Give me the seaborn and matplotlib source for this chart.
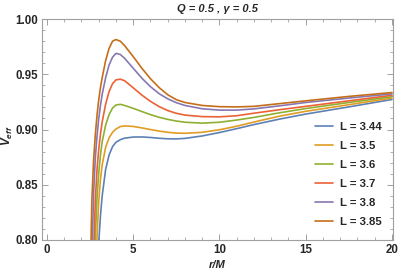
import numpy as np
import pandas as pd
import seaborn as sns
from matplotlib import pyplot as plt
from matplotlib.ticker import MultipleLocator

# r/M grid shared by all curves
r = [2.4, 2.5, 2.6, 2.7, 2.8, 2.9, 3.0, 3.1, 3.2, 3.4, 3.6, 3.8, 4.0, 4.25, 4.5,
     5.0, 5.5, 6.0, 6.5, 7.0, 7.5, 8.0, 9.0, 10.0, 11.0, 12.0, 13.5, 15.0, 17.5, 20.0]

# V_eff, one list per angular momentum
v_344 = [0.45, 0.50, 0.55, 0.61, 0.67, 0.74, 0.798, 0.822, 0.840, 0.864, 0.877, 0.8845, 0.8885, 0.8908, 0.8922,
         0.8932, 0.8933, 0.8928, 0.8921, 0.8916, 0.8915, 0.8920, 0.8942, 0.8973, 0.9008, 0.9045,
         0.9095, 0.9140, 0.9205, 0.9272]
v_35 = [0.50, 0.56, 0.62, 0.68, 0.74, 0.803, 0.835, 0.855, 0.868, 0.884, 0.8925, 0.8975, 0.9005, 0.9027, 0.9033,
        0.9028, 0.9015, 0.9000, 0.8986, 0.8975, 0.8968, 0.8966, 0.8975, 0.8998, 0.9030, 0.9068,
        0.9122, 0.9165, 0.9225, 0.9285]
v_36 = [0.56, 0.62, 0.68, 0.74, 0.803, 0.838, 0.861, 0.877, 0.889, 0.904, 0.9135, 0.9195, 0.9222, 0.9228, 0.9218,
        0.9192, 0.9163, 0.9135, 0.9111, 0.9092, 0.9077, 0.9066, 0.9058, 0.9066, 0.9086, 0.9110,
        0.9152, 0.9190, 0.9245, 0.9297]
v_37 = [0.60, 0.66, 0.72, 0.785, 0.836, 0.864, 0.882, 0.896, 0.907, 0.923, 0.9345, 0.9415, 0.9450, 0.9456, 0.9442,
        0.9378, 0.9312, 0.9255, 0.9208, 0.9172, 0.9147, 0.9131, 0.9117, 0.9115, 0.9125, 0.9148,
        0.9180, 0.9210, 0.9260, 0.9310]
v_38 = [0.63, 0.70, 0.78, 0.842, 0.874, 0.894, 0.910, 0.922, 0.932, 0.947, 0.9585, 0.9655, 0.9690, 0.9680, 0.9645,
        0.9555, 0.9465, 0.9388, 0.9325, 0.9278, 0.9243, 0.9218, 0.9188, 0.9176, 0.9176, 0.9187,
        0.9215, 0.9245, 0.9285, 0.9323]
v_385 = [0.68, 0.76, 0.835, 0.872, 0.895, 0.913, 0.927, 0.938, 0.947, 0.9625, 0.9735, 0.9800, 0.9815, 0.9800, 0.9760,
         0.9660, 0.9555, 0.9460, 0.9380, 0.9315, 0.9270, 0.9245, 0.9218, 0.9207, 0.9205, 0.9210,
         0.9235, 0.9260, 0.9300, 0.9335]

labels = ["L = 3.44", "L = 3.5", "L = 3.6", "L = 3.7", "L = 3.8", "L = 3.85"]
colors = ["#5E81B5", "#E19C24", "#8FB032", "#EB6235", "#8778B3", "#C56E1A"]

series = [v_344, v_35, v_36, v_37, v_38, v_385]
df = pd.concat([pd.DataFrame({"r": r, "V": v, "L": lab}) for v, lab in zip(series, labels)])

sns.set_style("ticks")
plt.rcParams['font.family'] = ['Liberation Sans', 'DejaVu Sans']
plt.rcParams['font.weight'] = 'bold'
plt.rcParams['mathtext.fontset'] = 'custom'
plt.rcParams['mathtext.it'] = 'Liberation Sans:italic:bold'
plt.rcParams['mathtext.rm'] = 'Liberation Sans:bold'

fig = plt.figure(figsize=(4, 2.73), dpi=100)
ax = fig.add_axes([0.105, 0.121, 0.8775, 0.809])

sns.lineplot(data=df, x="r", y="V", hue="L", palette=colors, linewidth=1.2, ax=ax, sort=False)

ax.set_xlim(-0.29, 20.06)
ax.set_ylim(0.80, 1.00)
ax.xaxis.set_major_locator(MultipleLocator(5))
ax.xaxis.set_minor_locator(MultipleLocator(1))
ax.yaxis.set_major_locator(MultipleLocator(0.05))
ax.yaxis.set_minor_locator(MultipleLocator(0.01))
ax.yaxis.set_major_formatter(plt.FormatStrFormatter('%.2f'))

frame_col = "#a0a0a0"
for s in ax.spines.values():
    s.set_color(frame_col)
    s.set_linewidth(0.8)
ax.tick_params(which='both', direction='in', top=True, right=True, color=frame_col,
               labelsize=8.3, pad=3)
ax.tick_params(which='major', length=4, width=0.7)
ax.tick_params(which='minor', length=2, width=0.6)
for t in ax.get_xticklabels() + ax.get_yticklabels():
    t.set_fontweight('bold')

ax.set_title("Q = 0.5 , γ = 0.5", fontsize=8, fontweight='bold', fontstyle='italic', pad=5)
ax.set_xlabel("r/M", fontsize=8, fontweight='bold', fontstyle='italic', labelpad=3)
ax.set_ylabel(r"$V_{eff}$", fontsize=8.5)
ax.yaxis.set_label_coords(-0.078, 0.47)

ax.legend(loc='upper left', bbox_to_anchor=(0.777, 0.535), frameon=False,
          handlelength=1.6, handletextpad=0.6, labelspacing=0.8,
          borderpad=0, borderaxespad=0, prop={'weight': 'bold', 'size': 8.2})

fig.savefig("out.png", dpi=100)
